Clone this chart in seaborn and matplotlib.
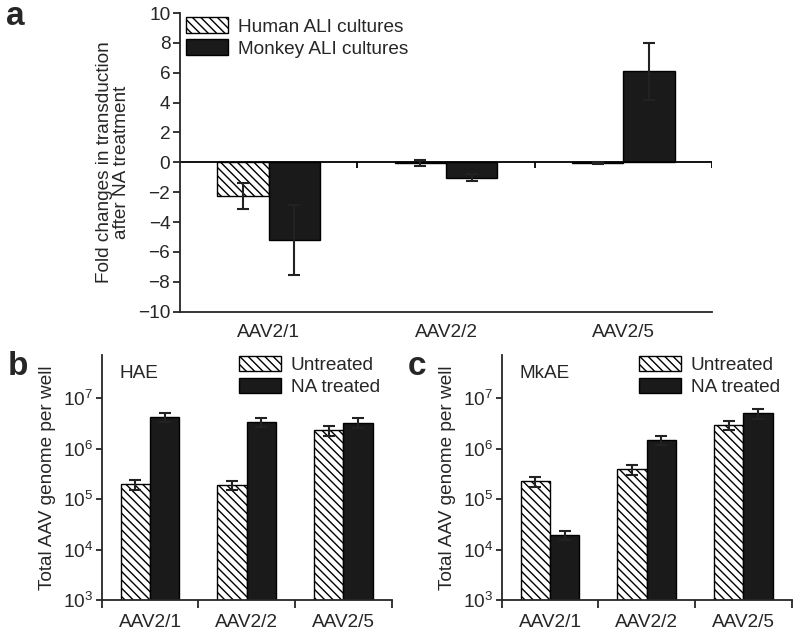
#!/usr/bin/env python3
"""
Fold change in AAV transduction after NA treatment (a) and
total AAV genomes per well in HAE / MkAE cultures (b, c)
"""

import pandas as pd
import matplotlib
matplotlib.use('Agg')
import matplotlib.pyplot as plt
from matplotlib.patches import Patch
from matplotlib.ticker import FixedLocator, NullLocator
import seaborn as sns

# Data
vectors = ['AAV2/1', 'AAV2/2', 'AAV2/5']

fold_human = [-2.25, -0.03, -0.05]
fold_human_err = [0.9, 0.2, 0.06]
fold_monkey = [-5.2, -1.03, 6.1]
fold_monkey_err = [2.35, 0.23, 1.9]

hae_untreated = [2.0e5, 1.9e5, 2.3e6]
hae_untreated_err = [0.45e5, 0.4e5, 0.55e6]
hae_treated = [4.25e6, 3.4e6, 3.3e6]
hae_treated_err = [0.9e6, 0.75e6, 0.75e6]

mkae_untreated = [2.25e5, 3.95e5, 2.9e6]
mkae_untreated_err = [0.5e5, 0.9e5, 0.6e6]
mkae_treated = [1.95e4, 1.46e6, 5.0e6]
mkae_treated_err = [0.4e4, 0.3e6, 1.1e6]

HATCH = '\\' * 4
DARK = '#1a1a1a'
FS = 13.7

sns.set_style('ticks')
plt.rcParams['font.family'] = ['Liberation Sans', 'DejaVu Sans']
plt.rcParams['mathtext.fontset'] = 'custom'
plt.rcParams['mathtext.rm'] = 'Liberation Sans'
plt.rcParams['mathtext.default'] = 'regular'
plt.rcParams['hatch.linewidth'] = 1.0
plt.rcParams['axes.linewidth'] = 1.3


def draw_bars(ax, labels, vals1, errs1, vals2, errs2, names, width):
    """Grouped bars with seaborn, then error bars on top of each bar"""
    df = pd.DataFrame({
        'vector': labels * 2,
        'value': list(vals1) + list(vals2),
        'group': [names[0]] * len(labels) + [names[1]] * len(labels),
    })
    sns.barplot(data=df, x='vector', y='value', hue='group',
                palette=['white', DARK], saturation=1, errorbar=None,
                width=width, edgecolor='black', linewidth=1.0,
                legend=False, ax=ax)
    for cont, errs in zip(ax.containers, [errs1, errs2]):
        for patch, err in zip(cont.patches, errs):
            x = patch.get_x() + patch.get_width() / 2
            y = patch.get_y() + patch.get_height()
            ax.errorbar(x, y, yerr=err, fmt='none', ecolor='#222222',
                        elinewidth=1.5, capsize=4, capthick=1.5, zorder=5)
    for patch in ax.containers[0].patches:
        patch.set_hatch(HATCH)
    ax.set_xlabel('')
    ax.set_ylabel('')


def legend_handles():
    return [Patch(facecolor='white', edgecolor='black', hatch=HATCH),
            Patch(facecolor=DARK, edgecolor='black')]


fig = plt.figure(figsize=(8, 6.35), dpi=100)

# ---- panel a ----
ax_a = fig.add_axes([0.225, 0.5091, 0.665, 0.4704])
draw_bars(ax_a, vectors, fold_human, fold_human_err, fold_monkey,
          fold_monkey_err, ['Human ALI cultures', 'Monkey ALI cultures'], 0.58)
ax_a.set_ylim(-10, 10)
ax_a.set_xlim(-0.5, 2.5)
ax_a.set_yticks(range(-10, 11, 2))
ax_a.set_yticklabels([str(t).replace('-', '\u2212') for t in range(-10, 11, 2)])
ax_a.axhline(0, color='black', lw=1.3, zorder=1)
ax_a.vlines([0.5, 1.5, 2.5], -0.4, 0, color='black', lw=1.3)
ax_a.tick_params(axis='y', direction='out', length=5, width=1.3, labelsize=FS, pad=2)
ax_a.tick_params(axis='x', length=0, labelsize=FS, pad=9)
for side in ['top', 'right']:
    ax_a.spines[side].set_visible(False)
ax_a.set_ylabel('Fold changes in transduction\nafter NA treatment', fontsize=FS,
                labelpad=6, linespacing=1.0)
ax_a.legend(legend_handles(), ['Human ALI cultures', 'Monkey ALI cultures'],
            loc='upper left', bbox_to_anchor=(0.012, 0.985), frameon=False,
            fontsize=FS, handlelength=2.2, handleheight=0.85, labelspacing=0.2,
            handletextpad=0.5, borderpad=0, borderaxespad=0)


# ---- panels b and c ----
def genome_panel(rect, untreated, untreated_err, treated, treated_err, tag):
    ax = fig.add_axes(rect)
    draw_bars(ax, vectors, untreated, untreated_err, treated, treated_err,
              ['Untreated', 'NA treated'], 0.61)
    ax.set_yscale('log')
    ax.set_ylim(1e3, 7.2e7)
    ax.set_xlim(-0.5, 2.5)
    ax.yaxis.set_major_locator(FixedLocator([1e3, 1e4, 1e5, 1e6, 1e7]))
    ax.yaxis.set_minor_locator(NullLocator())
    ax.xaxis.set_minor_locator(FixedLocator([-0.5, 0.5, 1.5, 2.5]))
    ax.tick_params(axis='y', which='major', direction='out', length=4,
                   width=1.3, labelsize=FS, pad=2)
    ax.tick_params(axis='x', which='major', length=0, labelsize=FS, pad=10)
    ax.tick_params(axis='x', which='minor', direction='out', length=6, width=1.3)
    for side in ['top', 'right']:
        ax.spines[side].set_visible(False)
    ax.set_ylabel('Total AAV genome per well', fontsize=FS, labelpad=5)
    ax.text(0.06, 0.906, tag, transform=ax.transAxes, fontsize=FS)
    ax.legend(legend_handles(), ['Untreated', 'NA treated'],
              loc='upper left', bbox_to_anchor=(0.475, 0.995), frameon=False,
              fontsize=FS, handlelength=2.2, handleheight=0.85, labelspacing=0.2,
              handletextpad=0.5, borderpad=0, borderaxespad=0)
    return ax


ax_b = genome_panel([0.1271, 0.0551, 0.3625, 0.3858], hae_untreated,
                    hae_untreated_err, hae_treated, hae_treated_err, 'HAE')
ax_c = genome_panel([0.6271, 0.0551, 0.3625, 0.3858], mkae_untreated,
                    mkae_untreated_err, mkae_treated, mkae_treated_err, 'MkAE')

# Panel letters
fig.text(0.008, 0.961, 'a', fontsize=24, fontweight='bold')
fig.text(0.010, 0.409, 'b', fontsize=24, fontweight='bold')
fig.text(0.510, 0.409, 'c', fontsize=24, fontweight='bold')

fig.savefig('out.png', dpi=100)
